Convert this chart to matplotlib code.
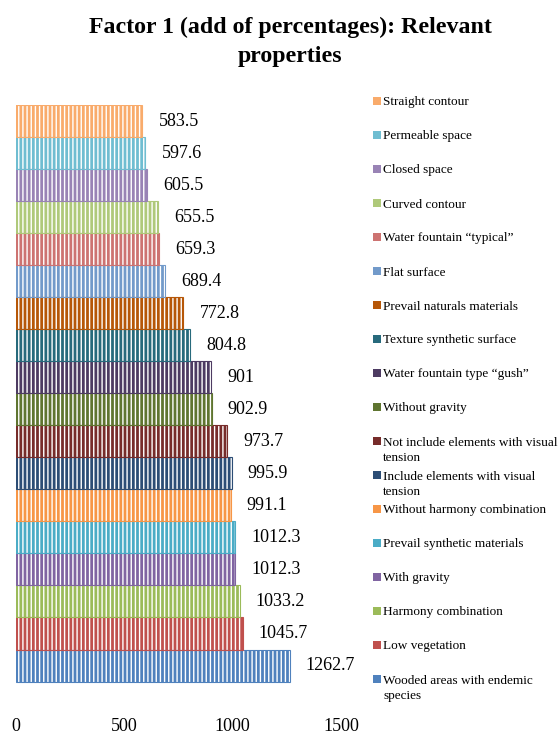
import matplotlib
matplotlib.use("Agg")
import matplotlib.pyplot as plt

plt.rcParams['font.family'] = ['Liberation Serif', 'DejaVu Serif']
plt.rcParams['hatch.linewidth'] = 1.0

# bottom to top
labels = [
    "Wooded areas with endemic\nspecies",
    "Low vegetation",
    "Harmony combination",
    "With gravity",
    "Prevail synthetic materials",
    "Without harmony combination",
    "Include elements with visual\ntension",
    "Not include elements with visual\ntension",
    "Without gravity",
    "Water fountain type \u201cgush\u201d",
    "Texture synthetic surface",
    "Prevail naturals materials",
    "Flat surface",
    "Water fountain \u201ctypical\u201d",
    "Curved contour",
    "Closed space",
    "Permeable space",
    "Straight contour",
]
values = [1262.7, 1045.7, 1033.2, 1012.3, 1012.3, 991.1, 995.9, 973.7, 902.9,
          901, 804.8, 772.8, 689.4, 659.3, 655.5, 605.5, 597.6, 583.5]
value_text = ["1262.7", "1045.7", "1033.2", "1012.3", "1012.3", "991.1", "995.9",
              "973.7", "902.9", "901", "804.8", "772.8", "689.4", "659.3",
              "655.5", "605.5", "597.6", "583.5"]
colors = ["#4F81BD", "#C0504D", "#9BBB59", "#8064A2", "#4BACC6", "#F79646",
          "#2C4D75", "#772C2A", "#5F7530", "#4D3B62", "#276A7C", "#B65708",
          "#729ACA", "#CD7371", "#AFC97A", "#9983B5", "#6FBDD1", "#F9AB6B"]
xticks = [0, 500, 1000, 1500]
title_lines = ["Factor 1 (add of percentages): Relevant", "properties"]

W, H = 559, 734
fig = plt.figure(figsize=(W / 100, H / 100), dpi=100)

# main axes: x 16..341 px, y 105..711 px
ax = fig.add_axes([16 / W, 1 - 711 / H, 325 / W, 606 / H])
pos = list(range(len(values)))
ax.barh(pos, values, height=1.0, color=colors, edgecolor="white",
        linewidth=0, hatch="||||")
ax.barh(pos, values, height=1.0, fill=False, edgecolor=colors, linewidth=0.8)
for y, v, t in zip(pos, values, value_text):
    ax.annotate(t, (v, y), xytext=(11.5, 0), textcoords="offset points",
                va="center", ha="left", fontsize=13)
ax.set_xlim(0, 1500)
ax.set_ylim(-1.42, 17.5)
ax.set_xticks(xticks)
ax.set_xticklabels([str(t) for t in xticks], fontsize=13)
ax.set_yticks([])
ax.tick_params(axis="x", length=0, pad=5)
for s in ax.spines.values():
    s.set_visible(False)

# legend axes
lax = fig.add_axes([360 / W, 1 - 696 / H, 199 / W, 612 / H])
lax.set_xlim(360, 559)
lax.set_ylim(-0.5, 17.5)
lax.axis("off")
lax.scatter([377] * len(labels), pos, marker="s", s=30, c=colors,
            linewidths=0, clip_on=False)
for y, lab in zip(pos, labels):
    for k, line in enumerate(lab.split("\n")):
        lax.annotate(line, (383, y), xytext=(0, -11.3 * k),
                     textcoords="offset points", fontsize=9.5,
                     va="center_baseline", ha="left", annotation_clip=False)

fig.text(290 / W, 1 - 33 / H, title_lines[0], ha="center", va="baseline",
         fontsize=17.2, fontweight="bold")
fig.text(290 / W, 1 - 62 / H, title_lines[1], ha="center", va="baseline",
         fontsize=17.2, fontweight="bold")

fig.savefig("out.png", dpi=100)
